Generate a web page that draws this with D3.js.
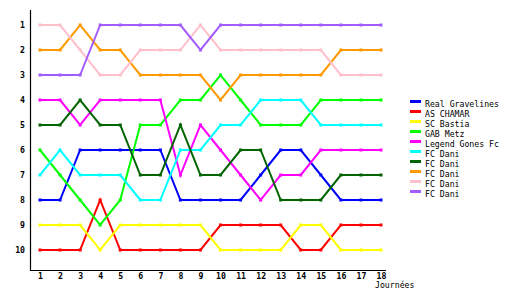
<!DOCTYPE html>
<html>
<head>
<meta charset="utf-8">
<script src="https://cdn.jsdelivr.net/npm/d3@7"></script>
<style>
  body { margin: 0; background: #fff; }
  text { font-family: "DejaVu Sans Mono", monospace; font-size: 8.2px; font-weight: bold; fill: #000; }
</style>
</head>
<body>
<svg id="drawing_region"></svg>
<script>
// journées
const days = d3.range(1, 19);
const rankTicks = [1, 2, 3, 4, 5, 6, 7, 8, 9, 10];

const teams = ["Real Gravelines", "AS CHAMAR", "SC Bastia", "GAB Metz", "Legend Gones Fc",
               "FC Dani", "FC Dani", "FC Dani", "FC Dani", "FC Dani"];
const colors = ["#0000ff", "#ff0000", "#ffff00", "#00ff00", "#ff00ff",
                "#00ffff", "#006400", "#ff9900", "#ffc0cb", "#a35cff"];

// classement par journée
const realGravelines = [8, 8, 6, 6, 6, 6, 6, 8, 8, 8, 8, 7, 6, 6, 7, 8, 8, 8];
const asChamar       = [10, 10, 10, 8, 10, 10, 10, 10, 10, 9, 9, 9, 9, 10, 10, 9, 9, 9];
const scBastia       = [9, 9, 9, 10, 9, 9, 9, 9, 9, 10, 10, 10, 10, 9, 9, 10, 10, 10];
const gabMetz        = [6, 7, 8, 9, 8, 5, 5, 4, 4, 3, 4, 5, 5, 5, 4, 4, 4, 4];
const legendGones    = [4, 4, 5, 4, 4, 4, 4, 7, 5, 6, 7, 8, 7, 7, 6, 6, 6, 6];
const fcDani1        = [7, 6, 7, 7, 7, 8, 8, 6, 6, 5, 5, 4, 4, 4, 5, 5, 5, 5];
const fcDani2        = [5, 5, 4, 5, 5, 7, 7, 5, 7, 7, 6, 6, 8, 8, 8, 7, 7, 7];
const fcDani3        = [2, 2, 1, 2, 2, 3, 3, 3, 3, 4, 3, 3, 3, 3, 3, 2, 2, 2];
const fcDani4        = [1, 1, 2, 3, 3, 2, 2, 2, 1, 2, 2, 2, 2, 2, 2, 3, 3, 3];
const fcDani5        = [3, 3, 3, 1, 1, 1, 1, 1, 2, 1, 1, 1, 1, 1, 1, 1, 1, 1];

const series = [realGravelines, asChamar, scBastia, gabMetz, legendGones,
                fcDani1, fcDani2, fcDani3, fcDani4, fcDani5];

const width = 530, height = 300;

const svg = d3.select('#drawing_region')
    .attr('width', width)
    .attr('height', height);

const xscale = d3.scaleLinear().domain([1, 18]).range([40, 381]);
const yscale = d3.scaleLinear().domain([1, 10]).range([25, 250]);

// axes (labels only, lines drawn by hand)
const xaxis_group = svg.append('g')
    .attr('transform', 'translate(0, 270)')
    .call(d3.axisBottom(xscale).tickValues(days).tickSize(0).tickPadding(3).tickFormat(d3.format('d')));
xaxis_group.select('.domain').remove();
xaxis_group.selectAll('text').style('font-size', '8.2px').style('font-family', '"DejaVu Sans Mono", monospace');

const yaxis_group = svg.append('g')
    .attr('transform', 'translate(28, 0)')
    .call(d3.axisLeft(yscale).tickValues(rankTicks).tickSize(0).tickPadding(3));
yaxis_group.select('.domain').remove();
yaxis_group.selectAll('text').style('font-size', '8.2px').style('font-family', '"DejaVu Sans Mono", monospace');

svg.append('line')
    .attr('x1', 30.5).attr('x2', 30.5).attr('y1', 10).attr('y2', 271)
    .attr('stroke', '#000').attr('stroke-width', 1.2);
svg.append('line')
    .attr('x1', 30).attr('x2', 386).attr('y1', 270.5).attr('y2', 270.5)
    .attr('stroke', '#000').attr('stroke-width', 1.2);

svg.append('text')
    .attr('x', 375)
    .attr('y', 288)
    .style('font-weight', 'normal')
    .text('Journées');

const line = d3.line()
    .x((d, i) => xscale(days[i]))
    .y(d => yscale(d));

const groups = svg.selectAll('g.series').data(series).enter()
    .append('g')
    .attr('class', 'series');

groups.append('path')
    .attr('d', d => line(d))
    .attr('fill', 'none')
    .attr('stroke', (d, i) => colors[i])
    .attr('stroke-width', 2);

groups.each(function (d, i) {
    d3.select(this).selectAll('rect').data(d).enter()
        .append('rect')
        .attr('x', (v, j) => xscale(days[j]) - 1.5)
        .attr('y', v => yscale(v) - 1.5)
        .attr('width', 3)
        .attr('height', 3)
        .attr('fill', colors[i]);
});

// legend
const legend = svg.append('g').attr('transform', 'translate(410, 101)');
const items = legend.selectAll('g').data(teams).enter()
    .append('g')
    .attr('transform', (d, i) => `translate(0, ${i * 10})`);
items.append('rect')
    .attr('x', 0).attr('y', -1)
    .attr('width', 11).attr('height', 3)
    .attr('fill', (d, i) => colors[i]);
items.append('text')
    .attr('x', 15)
    .attr('y', 6)
    .style('font-weight', 'normal')
    .text(d => d);
</script>
</body>
</html>
